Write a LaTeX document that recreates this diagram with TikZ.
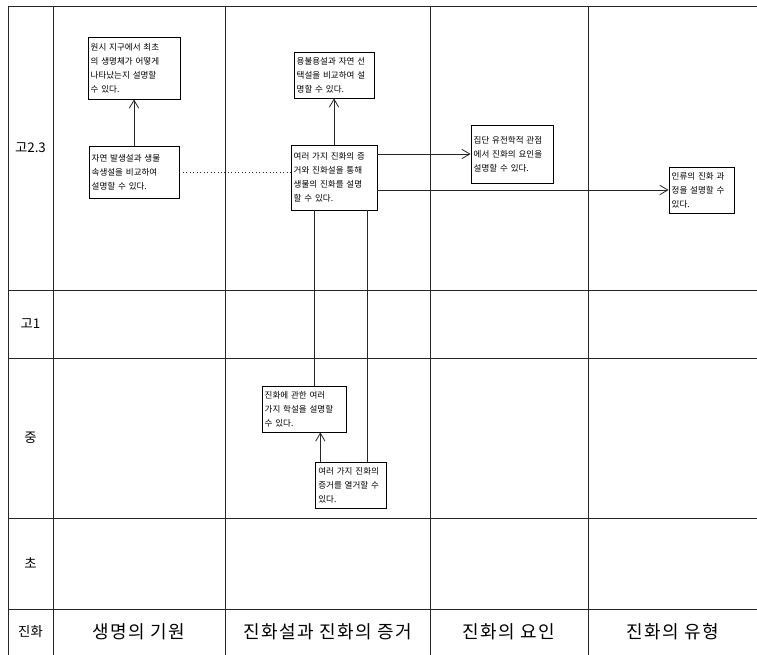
\documentclass[tikz,border=0pt]{standalone}
\usepackage{fontspec}
\setmainfont{Noto Sans CJK KR}
\newfontfamily\hdfont[LetterSpace=8]{Noto Sans CJK KR}
\usetikzlibrary{arrows.meta}
\tikzset{
  gridline/.style={line width=0.7pt, black!85},
  goalbox/.style={draw, line width=0.6pt, black, inner xsep=2pt, inner ysep=2pt,
    font=\fontsize{6.4}{10.5}\selectfont, align=left, anchor=center},
  conn/.style={line width=0.6pt, black!85},
  arr/.style={conn, -{Straight Barb[length=6pt,width=7pt,line width=0.6pt]}},
  rowlab/.style={font=\fontsize{10}{12}\selectfont},
  colhead/.style={font=\hdfont\fontsize{13.5}{16}\selectfont}
}
\begin{document}
\begin{tikzpicture}[x=0.75pt,y=-0.75pt]
\useasboundingbox (0,0) rectangle (757,655);
% grid
\foreach \gx in {8,53,225,430,588} \draw[gridline] (\gx,6) -- (\gx,655);
\foreach \gy in {6,290,358,518,609} \draw[gridline] (8,\gy) -- (757,\gy);
% row labels
\node[rowlab] (r1) at (30.5,148) {고2.3};
\node[rowlab] (r2) at (30.5,324) {고1};
\node[rowlab] (r3) at (30.5,438) {중};
\node[rowlab] (r4) at (30.5,563.5) {초};
\node[rowlab] (r5) at (30.5,632) {진화};
% column heads
\node[colhead] (c1) at (139,632) {생명의 기원};
\node[colhead] (c2) at (327.5,632) {진화설과 진화의 증거};
\node[colhead] (c3) at (509,632) {진화의 요인};
\node[colhead] (c4) at (672.5,632) {진화의 유형};
% boxes
\node[goalbox, minimum width=69pt, minimum height=46.5pt, text width=65pt] (b1) at (134,68)
  {원시 지구에서 최초\\의 생명체가 어떻게\\나타났는지 설명할\\수 있다.};
\node[goalbox, minimum width=67.5pt, minimum height=39pt, text width=63.5pt] (b2) at (134,172)
  {자연 발생설과 생물\\속생설을 비교하여\\설명할 수 있다.};
\node[goalbox, minimum width=60pt, minimum height=34.5pt, text width=56pt] (b3) at (334,75)
  {용불용설과 자연 선\\택설을 비교하여 설\\명할 수 있다.};
\node[goalbox, minimum width=64.5pt, minimum height=48.75pt, text width=60.5pt] (b4) at (334,177.5)
  {여러 가지 진화의 증\\거와 진화설을 통해\\생물의 진화를 설명\\할 수 있다.};
\node[goalbox, minimum width=61.5pt, minimum height=43.5pt, text width=57.5pt] (b5) at (512,154)
  {집단 유전학적 관점\\에서 진화의 요인을\\설명할 수 있다.};
\node[goalbox, minimum width=48.75pt, minimum height=34.5pt, text width=44.75pt] (b6) at (701.5,190)
  {인류의 진화 과\\정을 설명할 수\\있다.};
\node[goalbox, minimum width=63pt, minimum height=34.5pt, text width=59pt] (b7) at (304,409)
  {진화에 관한 여러\\가지 학설을 설명할\\수 있다.};
\node[goalbox, minimum width=53pt, minimum height=34.5pt, text width=49pt] (b8) at (351,485)
  {여러 가지 진화의\\증거를 열거할 수\\있다.};
% connectors
\draw[arr] (b2.north) -- (b1.south);
\draw[arr] (b4.north) -- (b3.south);
\draw[dotted, conn] (b2.east) -- (b4.west |- b2.east);
\draw[arr] (b4.east |- b5.west) -- (b5.west);
\draw[arr] (b4.east |- b6.west) -- (b6.west);
\draw[conn] ([xshift=8]b7.north) -- ([xshift=8]b7.north |- b4.south);
\draw[conn] ([xshift=12]b8.north) -- ([xshift=12]b8.north |- b4.south);
\draw[arr] ([xshift=-23]b8.north) -- ([xshift=-23]b8.north |- b7.south);
\end{tikzpicture}
\end{document}
